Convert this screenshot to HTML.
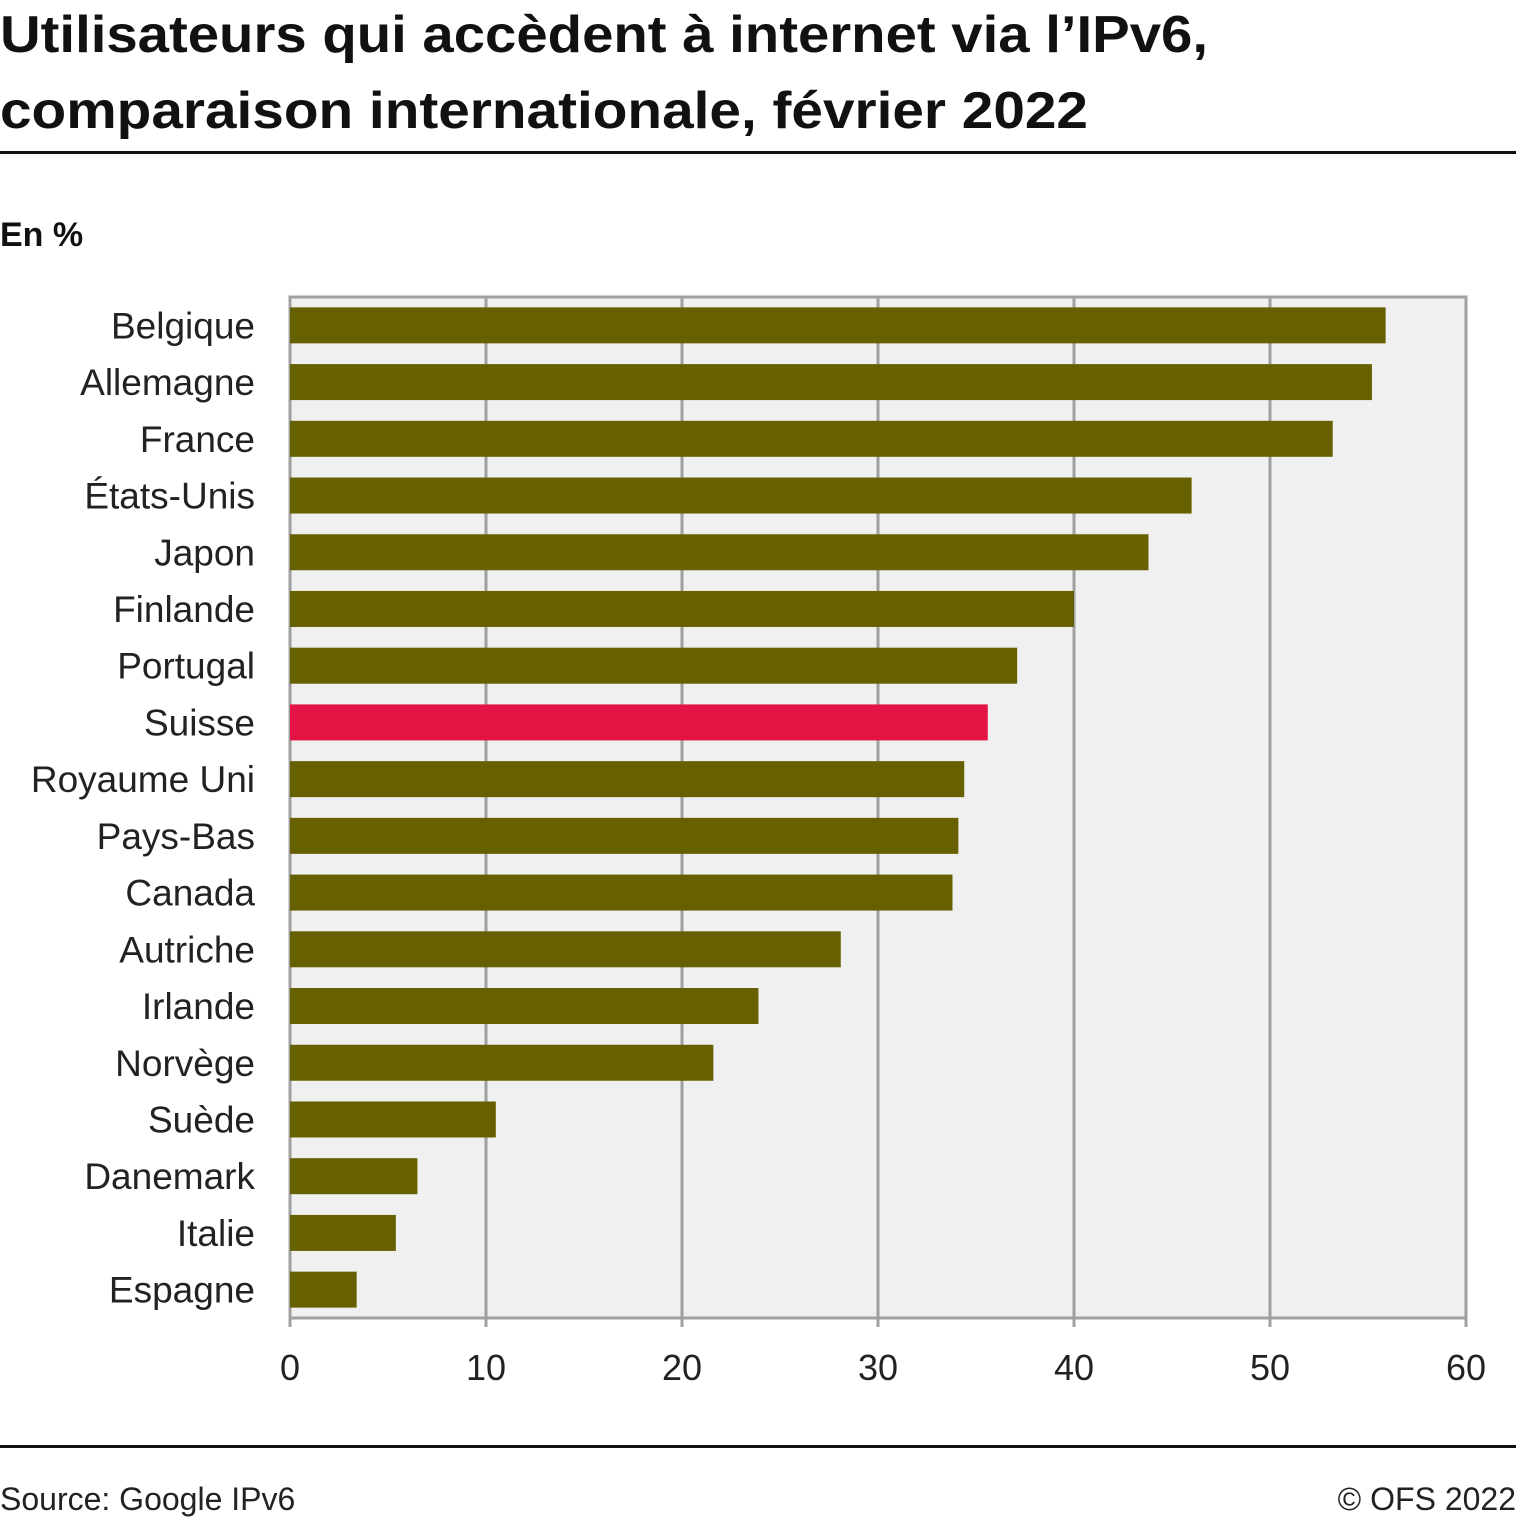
<!DOCTYPE html>
<html><head><meta charset="utf-8"><style>
body{margin:0;background:#fff;width:1516px;height:1519px;overflow:hidden;font-family:"Liberation Sans",sans-serif;}
</style></head><body>
<svg width="1516" height="1519" xmlns="http://www.w3.org/2000/svg">
<text x="0" y="52" font-size="52" font-weight="bold" fill="#111" textLength="1208" lengthAdjust="spacingAndGlyphs">Utilisateurs qui accèdent à internet via l’IPv6,</text>
<text x="0" y="128" font-size="52" font-weight="bold" fill="#111" textLength="1088" lengthAdjust="spacingAndGlyphs">comparaison internationale, février 2022</text>
<rect x="0" y="151" width="1516" height="3" fill="#111"/>
<text x="0" y="246" font-size="34" font-weight="bold" fill="#111">En %</text>
<g id="plot"></g>
<rect x="0" y="1445" width="1516" height="3" fill="#111"/>
<text x="0" y="1510" font-size="32" fill="#222">Source: Google IPv6</text>
<text x="1516" y="1510" font-size="32" fill="#222" text-anchor="end">© OFS 2022</text>
</svg>
<script>
const categories=["Belgique","Allemagne","France","États-Unis","Japon","Finlande","Portugal","Suisse","Royaume Uni","Pays-Bas","Canada","Autriche","Irlande","Norvège","Suède","Danemark","Italie","Espagne"];
const values=[55.9,55.2,53.2,46.0,43.8,40.0,37.1,35.6,34.4,34.1,33.8,28.1,23.9,21.6,10.5,6.5,5.4,3.4];
const highlight=["Suisse"];
const ticks=[0,10,20,30,40,50,60];
const NS="http://www.w3.org/2000/svg";
const g=document.getElementById('plot');
const L=290,R=1466,T=297,B=1318;
const x=v=>L+(v-0)/(60-0)*(R-L);
const step=(B-T)/categories.length;
const y=i=>T+step*i+step/2;
function mk(t,a){const e=document.createElementNS(NS,t);for(const k in a)e.setAttribute(k,a[k]);g.appendChild(e);return e;}
let bg=mk('rect',{x:L,y:T,width:R-L,height:B-T,fill:'#f0f0f0',stroke:'#a0a0a0','stroke-width':3});


ticks.forEach(t=>{
  let l=mk('line',{x1:x(t),x2:x(t),y1:T,y2:B+9,stroke:'#a0a0a0','stroke-width':3});
  
  
  let tx=mk('text',{x:x(t),y:B+62,'font-size':36,'text-anchor':'middle',fill:'#222'});
  tx.textContent=t;
  
  
});
categories.forEach((c,i)=>{
  let r=mk('rect',{x:L,y:y(i)-18,width:x(values[i])-L,height:36,fill:highlight.includes(c)?'#e31443':'#666000'});
  
  
  let t=mk('text',{x:255,y:y(i)+13,'font-size':37,'text-anchor':'end',fill:'#222'});
  t.textContent=c;
  
  
});
</script>
</body></html>
